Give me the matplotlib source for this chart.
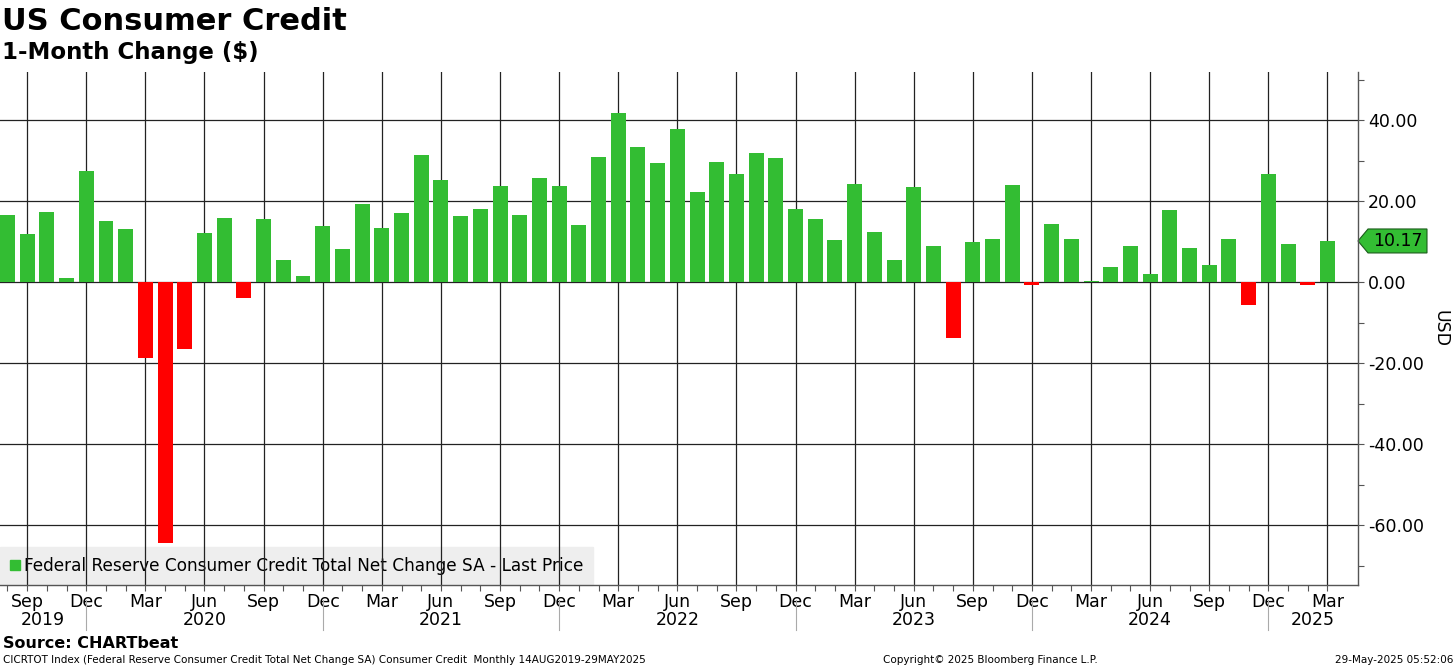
import matplotlib
matplotlib.use('Agg')
import matplotlib.pyplot as plt
import matplotlib.transforms as mtransforms
from matplotlib.patches import Polygon
from matplotlib.lines import Line2D
from matplotlib.ticker import MultipleLocator, FuncFormatter
import numpy as np

plt.rcParams['font.family'] = ['DejaVu Sans']

# monthly net change, Aug 2019 .. Mar 2025 (USD bn)
start_year, start_month = 2019, 8
values = [
    16.5, 12.0, 17.3, 1.1, 27.5,                                          # 2019 Aug-Dec
    15.0, 13.2, -18.8, -64.5, -16.5, 12.2, 15.9, -4.0, 15.6, 5.4, 1.5, 13.8,  # 2020
    8.3, 19.3, 13.3, 17.1, 31.4, 25.2, 16.3, 18.0, 23.8, 16.5, 25.6, 23.8,    # 2021
    14.1, 30.9, 41.8, 33.3, 29.4, 37.9, 22.2, 29.6, 26.7, 31.9, 30.6, 18.0,   # 2022
    15.6, 10.3, 24.3, 12.3, 5.4, 23.5, 8.9, -13.8, 9.9, 10.6, 24.0, -0.75,    # 2023
    14.4, 10.6, 0.2, 3.7, 8.9, 2.0, 17.8, 8.4, 4.2, 10.6, -5.7, 26.7,         # 2024
    9.4, -0.6, 10.17,                                                         # 2025
]
quarter_names = {3: 'Mar', 6: 'Jun', 9: 'Sep', 12: 'Dec'}
years = [2019, 2020, 2021, 2022, 2023, 2024, 2025]
yticks = [-60, -40, -20, 0, 20, 40]
last_price = 10.17
series_label = 'Federal Reserve Consumer Credit Total Net Change SA - Last Price'

green = '#33bd33'
red = '#ff0000'

n = len(values)
months = [(start_year + (start_month - 1 + i) // 12, (start_month - 1 + i) % 12 + 1) for i in range(n)]
x = np.arange(n)
colors = [green if v >= 0 else red for v in values]

W, H = 1456, 668
fig = plt.figure(figsize=(W / 100, H / 100), dpi=100)
ax = fig.add_axes([0, 1 - 585 / H, 1358 / W, (585 - 72) / H])

ax.bar(x, values, width=0.76, color=colors, zorder=2)
xmin, xmax = -0.38, n + 0.55
ax.set_xlim(xmin, xmax)
ax.set_ylim(-74.8, 51.9)

# x axis: quarter labels, monthly minor ticks
qidx = [i for i, (yy, mm) in enumerate(months) if mm in quarter_names]
ax.set_xticks(qidx)
ax.set_xticklabels([quarter_names[months[i][1]] for i in qidx])
ax.set_xticks(x, minor=True)
ax.tick_params(axis='x', which='both', length=4, width=0.8, color='#555555',
               labelsize=12.5, pad=2)

# y axis on the right
ax.yaxis.tick_right()
ax.set_yticks(yticks)
ax.yaxis.set_minor_locator(MultipleLocator(10))
ax.yaxis.set_major_formatter(FuncFormatter(lambda v, p: f'{v:.2f}'))
ax.tick_params(axis='y', which='both', length=4, width=0.8, color='#555555',
               labelsize=12.5, pad=3)

ax.grid(True, which='major', color='#222222', linewidth=0.9)
ax.set_axisbelow(True)
for s in ['top', 'left']:
    ax.spines[s].set_visible(False)
for s in ['bottom', 'right']:
    ax.spines[s].set_color('#555555')
    ax.spines[s].set_linewidth(1)

ax.text(1.061, 0.5, 'USD', rotation=270, transform=ax.transAxes,
        ha='center', va='center', fontsize=12.5)

# year labels and separators
tr = mtransforms.blended_transform_factory(ax.transData, ax.transAxes)
dec_idx = {yy: i for i, (yy, mm) in enumerate(months) if mm == 12}
for yr in years:
    left = dec_idx.get(yr - 1, xmin)
    right = dec_idx.get(yr, xmax)
    ax.text((left + right) / 2, -0.068, str(yr), transform=tr,
            ha='center', va='center', fontsize=12.5)
for yr, i in dec_idx.items():
    ax.add_line(Line2D([i, i], [-0.03, -0.088], transform=tr, color='#aaaaaa',
                       linewidth=0.8, clip_on=False))

# last price tag
tr2 = mtransforms.blended_transform_factory(ax.transAxes, ax.transData)
hh = 2.96
tag = Polygon([(1.0, last_price), (1.0074, last_price + hh), (1.0508, last_price + hh),
               (1.0508, last_price - hh), (1.0074, last_price - hh)],
              closed=True, transform=tr2, facecolor=green, edgecolor='#1a5c1a',
              linewidth=0.8, clip_on=False)
ax.add_patch(tag)
ax.text(1.029, last_price, f'{last_price:.2f}', transform=tr2, ha='center',
        va='center', fontsize=12.5)

# legend
handle = Line2D([], [], marker='s', color=green, linestyle='none', markersize=7)
leg = ax.legend([handle], [series_label], loc='lower left', bbox_to_anchor=(0, 0),
                borderaxespad=0, frameon=True, fancybox=False, facecolor='#eeeeee',
                edgecolor='#eeeeee', framealpha=1, handlelength=0.6,
                handletextpad=0.2, fontsize=12.2, borderpad=0.6)
leg.set_zorder(0.4)

# titles and footer
fig.text(2 / W, 1 - 21 / H, 'US Consumer Credit', fontsize=22, weight='bold',
         ha='left', va='center')
fig.text(2 / W, 1 - 52 / H, '1-Month Change ($)', fontsize=16.5, weight='bold',
         ha='left', va='center')
fig.text(3 / W, 1 - 643 / H, 'Source: CHARTbeat', fontsize=11.5, weight='bold',
         ha='left', va='center')
fig.text(3 / W, 1 - 660 / H,
         'CICRTOT Index (Federal Reserve Consumer Credit Total Net Change SA) Consumer Credit  Monthly 14AUG2019-29MAY2025',
         fontsize=7.5, ha='left', va='center')
fig.text(990 / W, 1 - 660 / H, 'Copyright\u00a9 2025 Bloomberg Finance L.P.',
         fontsize=7.5, ha='center', va='center')
fig.text(1453 / W, 1 - 660 / H, '29-May-2025 05:52:06', fontsize=7.5,
         ha='right', va='center')

fig.savefig('out.png', dpi=100)
